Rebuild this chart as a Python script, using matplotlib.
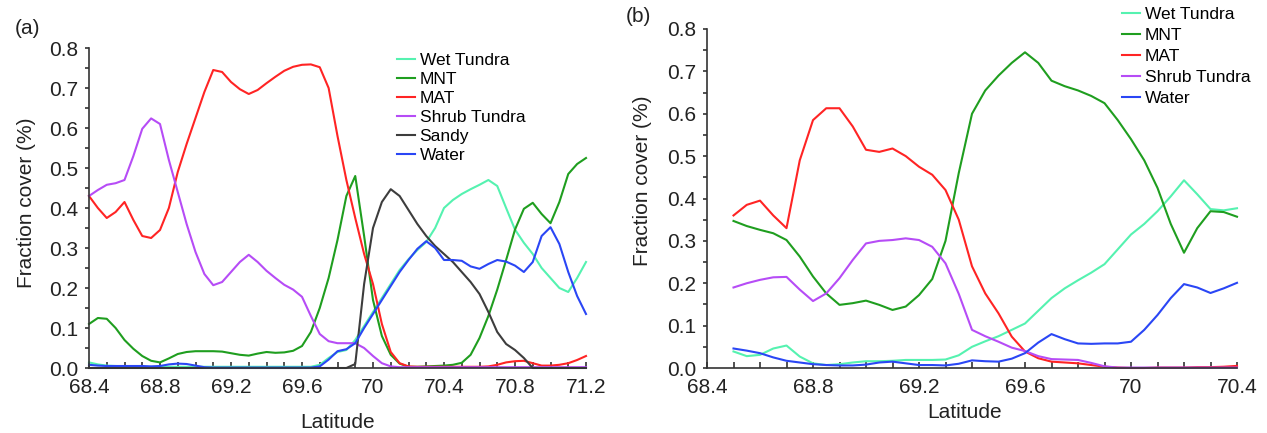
import numpy as np
import matplotlib
matplotlib.use("Agg")
import matplotlib.pyplot as plt
from matplotlib.ticker import MultipleLocator

plt.rcParams['font.family'] = ['Liberation Sans', 'DejaVu Sans']

# ---------------- data: panel (a) ----------------
lat_a = np.round(np.arange(68.40, 71.2001, 0.05), 2)

wet_a = [0.014, 0.009, 0.006, 0.005, 0.004] + [0.003] * 21 + [
    0.008, 0.025, 0.04, 0.045, 0.07, 0.105, 0.14, 0.175, 0.21, 0.245,
    0.272, 0.295, 0.315, 0.35, 0.40, 0.42, 0.435, 0.447, 0.458, 0.47,
    0.455, 0.40, 0.346, 0.313, 0.285, 0.25, 0.225, 0.20, 0.19, 0.225, 0.265]

mnt_a = [0.11, 0.125, 0.123, 0.10, 0.07, 0.048, 0.03, 0.018, 0.014, 0.024, 0.035, 0.04,
         0.042, 0.042, 0.042, 0.041, 0.037, 0.033, 0.031, 0.036, 0.04, 0.038,
         0.039, 0.043, 0.055, 0.09, 0.15, 0.225, 0.32, 0.43, 0.48, 0.33,
         0.17, 0.08, 0.033, 0.011, 0.003, 0.003, 0.004, 0.005, 0.006, 0.008,
         0.013, 0.033, 0.075, 0.13, 0.196, 0.27, 0.346, 0.398, 0.413, 0.385,
         0.362, 0.415, 0.485, 0.51, 0.525]

mat_a = [0.43, 0.40, 0.375, 0.39, 0.415, 0.37, 0.33, 0.325, 0.345, 0.40, 0.49, 0.56,
         0.625, 0.69, 0.745, 0.74, 0.715, 0.697, 0.685, 0.695, 0.712, 0.728,
         0.743, 0.753, 0.758, 0.759, 0.752, 0.70, 0.58, 0.47, 0.375, 0.285,
         0.21, 0.11, 0.04, 0.012, 0.004, 0.003, 0.003, 0.003, 0.003, 0.003,
         0.003, 0.003, 0.003, 0.004, 0.008, 0.014, 0.017, 0.018, 0.012, 0.006,
         0.006, 0.008, 0.012, 0.02, 0.03]

shrub_a = [0.43, 0.445, 0.458, 0.462, 0.47, 0.53, 0.598, 0.624, 0.61, 0.52, 0.44, 0.36,
           0.29, 0.235, 0.207, 0.215, 0.24, 0.265, 0.283, 0.265, 0.243, 0.225,
           0.208, 0.196, 0.178, 0.13, 0.085, 0.067, 0.062, 0.062, 0.062, 0.05,
           0.03, 0.012, 0.004] + [0.002] * 22

sandy_a = [0.0] * 30 + [
    0.01, 0.21, 0.35, 0.415, 0.447, 0.43, 0.395, 0.36, 0.33, 0.305,
    0.285, 0.265, 0.24, 0.215, 0.185, 0.14, 0.09, 0.06, 0.045, 0.025,
    0.0] + [0.0] * 6

water_a = [0.008, 0.006, 0.005, 0.005, 0.005, 0.005, 0.005, 0.004, 0.005, 0.009,
           0.011, 0.01, 0.006, 0.002] + [0.001] * 12 + [
    0.004, 0.021, 0.042, 0.047, 0.062, 0.10, 0.135, 0.17, 0.205, 0.24,
    0.27, 0.298, 0.317, 0.30, 0.27, 0.27, 0.268, 0.254, 0.248, 0.26,
    0.27, 0.266, 0.256, 0.24, 0.265, 0.33, 0.352, 0.31, 0.24, 0.18, 0.135]

# ---------------- data: panel (b) ----------------
lat_b = np.round(np.arange(68.50, 70.4001, 0.05), 2)

wet_b = [0.039, 0.028, 0.031, 0.046, 0.053, 0.027, 0.011, 0.007, 0.009, 0.013,
         0.016, 0.016, 0.017, 0.019, 0.019, 0.019, 0.02, 0.03, 0.05, 0.063,
         0.075, 0.09, 0.105, 0.135, 0.165, 0.188, 0.207, 0.225, 0.245, 0.28,
         0.315, 0.34, 0.37, 0.405, 0.443, 0.41, 0.375, 0.372, 0.377]

mnt_b = [0.347, 0.335, 0.326, 0.318, 0.302, 0.263, 0.216, 0.176, 0.149, 0.153,
         0.159, 0.149, 0.137, 0.145, 0.172, 0.21, 0.30, 0.46, 0.60, 0.655,
         0.69, 0.72, 0.745, 0.72, 0.678, 0.665, 0.655, 0.642, 0.625, 0.585,
         0.54, 0.49, 0.425, 0.34, 0.272, 0.33, 0.37, 0.368, 0.357]

mat_b = [0.36, 0.385, 0.395, 0.36, 0.33, 0.49, 0.585, 0.613, 0.613, 0.57,
         0.515, 0.51, 0.518, 0.50, 0.475, 0.456, 0.42, 0.35, 0.24, 0.176,
         0.129, 0.074, 0.039, 0.023, 0.015, 0.013, 0.011, 0.007, 0.003, 0.001,
         0.0, 0.0, 0.001, 0.001, 0.001, 0.002, 0.002, 0.003, 0.005]

shrub_b = [0.19, 0.20, 0.208, 0.214, 0.215, 0.185, 0.158, 0.176, 0.212, 0.255,
           0.294, 0.30, 0.302, 0.306, 0.302, 0.286, 0.247, 0.175, 0.09, 0.075,
           0.062, 0.048, 0.04, 0.028, 0.021, 0.02, 0.019, 0.012, 0.004, 0.001,
           0.001, 0.001, 0.001, 0.001, 0.001, 0.001, 0.001, 0.001, 0.001]

water_b = [0.046, 0.041, 0.035, 0.025, 0.017, 0.013, 0.009, 0.007, 0.006, 0.006,
           0.008, 0.013, 0.015, 0.011, 0.007, 0.007, 0.006, 0.01, 0.018, 0.016,
           0.015, 0.022, 0.035, 0.06, 0.08, 0.068, 0.058, 0.057, 0.058, 0.058,
           0.062, 0.09, 0.125, 0.165, 0.198, 0.19, 0.177, 0.188, 0.201]

yticks = [0.0, 0.1, 0.2, 0.3, 0.4, 0.5, 0.6, 0.7, 0.8]
ytick_labels = ["0.0", "0.1", "0.2", "0.3", "0.4", "0.5", "0.6", "0.7", "0.8"]
xticks_a = [68.4, 68.8, 69.2, 69.6, 70.0, 70.4, 70.8, 71.2]
xtick_labels_a = ["68.4", "68.8", "69.2", "69.6", "70", "70.4", "70.8", "71.2"]
xticks_b = [68.4, 68.8, 69.2, 69.6, 70.0, 70.4]
xtick_labels_b = ["68.4", "68.8", "69.2", "69.6", "70", "70.4"]

colors = {
    "Wet Tundra": "#55f2b0",
    "MNT": "#1f9e1f",
    "MAT": "#ff2424",
    "Shrub Tundra": "#b64cf6",
    "Sandy": "#3d3d3d",
    "Water": "#2a46f5",
}

W, H = 1267, 433
fig = plt.figure(figsize=(W / 100, H / 100), dpi=100)

def px_axes(l, t, r, b):
    return fig.add_axes([l / W, 1 - b / H, (r - l) / W, (b - t) / H])

ax1 = px_axes(89, 48, 586, 368)
ax2 = px_axes(707, 29, 1237, 368)

series_a = [("Wet Tundra", wet_a), ("MNT", mnt_a), ("MAT", mat_a),
            ("Shrub Tundra", shrub_a), ("Sandy", sandy_a), ("Water", water_a)]
series_b = [("Wet Tundra", wet_b), ("MNT", mnt_b), ("MAT", mat_b),
            ("Shrub Tundra", shrub_b), ("Water", water_b)]

for ax, lat, series in [(ax1, lat_a, series_a), (ax2, lat_b, series_b)]:
    for name, vals in series:
        ax.plot(lat, vals, color=colors[name], lw=1.5, label=name,
                clip_on=False, solid_joinstyle='round')

spine_c = "#333333"
tick_fs = 15
for ax, xt, xl, xlim in [(ax1, xticks_a, xtick_labels_a, (68.4, 71.2)),
                         (ax2, xticks_b, xtick_labels_b, (68.4, 70.4))]:
    ax.set_xlim(*xlim)
    ax.set_ylim(0, 0.8)
    ax.spines['top'].set_visible(False)
    ax.spines['right'].set_visible(False)
    for s in ('left', 'bottom'):
        ax.spines[s].set_color(spine_c)
        ax.spines[s].set_linewidth(1.2)
    ax.set_xticks(xt)
    ax.set_xticklabels(xl)
    ax.xaxis.set_minor_locator(MultipleLocator(0.1))
    ax.set_yticks(yticks)
    ax.set_yticklabels(ytick_labels)
    ax.yaxis.set_minor_locator(MultipleLocator(0.05))
    ax.tick_params(axis='x', which='both', direction='in', length=4, width=1.2,
                   color=spine_c, labelsize=tick_fs, pad=7, labelcolor='#222222')
    ax.tick_params(axis='y', which='both', direction='out', length=3, width=1.2,
                   color=spine_c, labelsize=tick_fs, pad=5, labelcolor='#222222')
    ax.set_xlabel("Latitude", fontsize=tick_fs, color='#222222')
    ax.set_ylabel("Fraction cover (%)", fontsize=tick_fs, color='#222222')

# label positions
ax1.xaxis.label.set_va('center')
ax1.xaxis.set_label_coords(0.5, (368 - 422) / 320)
ax2.xaxis.label.set_va('center')
ax2.xaxis.set_label_coords((965 - 707) / 530, (368 - 412) / 339)
ax1.yaxis.label.set_va('center')
ax1.yaxis.set_label_coords((27 - 89) / 497, (368 - 203) / 320)
ax2.yaxis.label.set_va('center')
ax2.yaxis.set_label_coords((643 - 707) / 530, (368 - 181) / 339)

leg_kw = dict(frameon=False, fontsize=12.5, handlelength=1.05, handletextpad=0.25,
              borderpad=0, borderaxespad=0, loc='upper left')
ax1.legend(bbox_to_anchor=(397 / W, 1 - 53 / H), bbox_transform=fig.transFigure,
           labelspacing=0.22, **leg_kw)
ax2.legend(bbox_to_anchor=(1122 / W, 1 - 7 / H), bbox_transform=fig.transFigure,
           labelspacing=0.33, **leg_kw)

fig.text(27 / W, 1 - 28 / H, "(a)", fontsize=15, ha='center', va='center', color='#222222')
fig.text(638 / W, 1 - 17 / H, "(b)", fontsize=15, ha='center', va='center', color='#222222')

fig.savefig("out.png", dpi=100)
